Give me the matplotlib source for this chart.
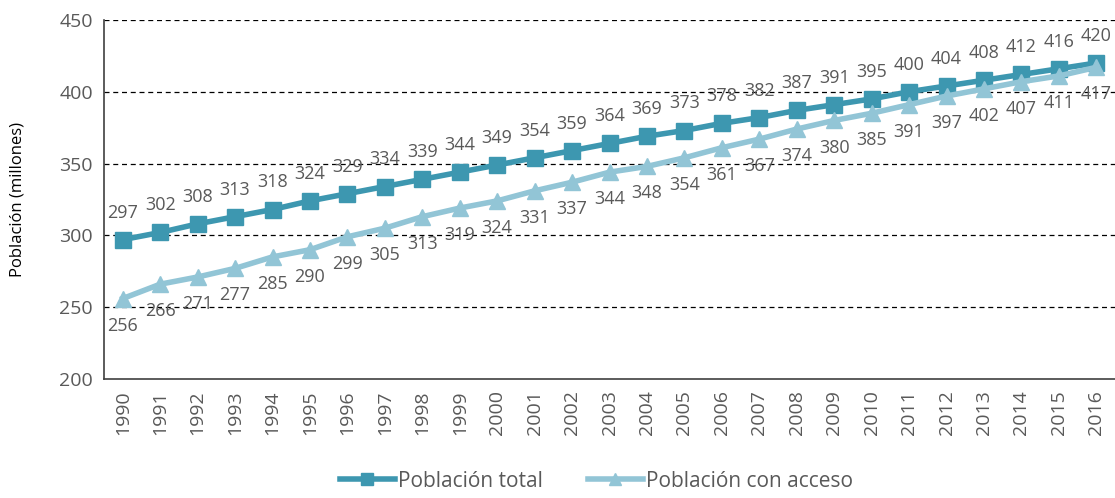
import matplotlib.pyplot as plt

plt.rcParams['font.family'] = ['Open Sans', 'DejaVu Sans']

years = [str(y) for y in range(1990, 2017)]
total = [297, 302, 308, 313, 318, 324, 329, 334, 339, 344, 349, 354, 359, 364,
         369, 373, 378, 382, 387, 391, 395, 400, 404, 408, 412, 416, 420]
acceso = [256, 266, 271, 277, 285, 290, 299, 305, 313, 319, 324, 331, 337, 344,
          348, 354, 361, 367, 374, 380, 385, 391, 397, 402, 407, 411, 417]

c_total = '#3d97b0'
c_acceso = '#92c5d6'
txt = '#595959'

fig = plt.figure(figsize=(11.15, 4.98), dpi=100)
ax = fig.add_axes([0.0933, 0.239, 0.9067, 0.721])

x = range(len(years))
ax.plot(x, total, color=c_total, lw=4, marker='s', ms=11, label='Población total', zorder=3)
ax.plot(x, acceso, color=c_acceso, lw=4, marker='^', ms=11, label='Población con acceso', zorder=3)

for i, v in enumerate(total):
    ax.annotate(str(v), (i, v), xytext=(0, 13), textcoords='offset points',
                ha='center', va='bottom', fontsize=13, color=txt)
for i, v in enumerate(acceso):
    ax.annotate(str(v), (i, v), xytext=(0, -13), textcoords='offset points',
                ha='center', va='top', fontsize=13, color=txt)

ax.set_xlim(-0.5, len(years) - 0.5)
ax.set_ylim(200, 450)
ax.set_yticks([200, 250, 300, 350, 400, 450])
ax.set_xticks(list(x))
ax.set_xticklabels(years, rotation=90)
ax.tick_params(axis='both', length=0, labelsize=14, colors=txt, pad=8)
for yv in [250, 300, 350, 400, 450]:
    ax.axhline(yv, color='black', lw=0.9, ls=(0, (4, 3)), zorder=1)

for s in ['top', 'right']:
    ax.spines[s].set_visible(False)
ax.spines['left'].set_color('#404040')
ax.spines['bottom'].set_color('#404040')
ax.spines['left'].set_linewidth(1.2)
ax.spines['bottom'].set_linewidth(1.2)

ax.set_ylabel('Población (millones)', fontsize=12, color='black')
ax.yaxis.set_label_coords(-0.078, 0.5)

fig.legend(loc='lower center', bbox_to_anchor=(0.535, -0.025), ncol=2, frameon=False,
           fontsize=15, labelcolor=txt, handlelength=2.6, handletextpad=0.15,
           columnspacing=2.2, markerscale=0.8)

fig.savefig('out.png', dpi=100)
